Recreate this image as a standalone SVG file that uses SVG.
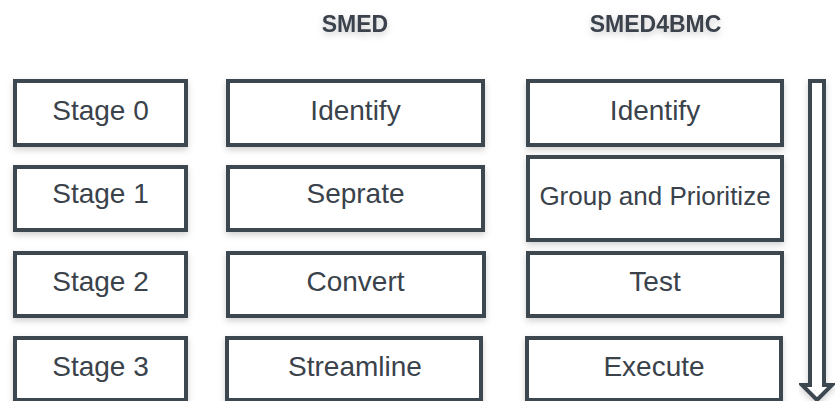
<svg xmlns="http://www.w3.org/2000/svg" width="835" height="401" viewBox="0 0 835 401">
<defs>
<filter id="sh" x="-10%" y="-20%" width="120%" height="150%">
<feDropShadow dx="0" dy="3" stdDeviation="3" flood-color="#000" flood-opacity="0.18"/>
</filter>
<filter id="tsh" x="-20%" y="-50%" width="140%" height="220%">
<feDropShadow dx="0" dy="3" stdDeviation="3" flood-color="#000" flood-opacity="0.2"/>
</filter>
</defs>
<style>
.box{fill:#fff;stroke:#3d4650;stroke-width:4;filter:url(#sh)}
.t{font-family:"Liberation Sans",Arial,sans-serif;font-size:28px;fill:#3a424b;text-anchor:middle}
.h{font-family:"Liberation Sans",Arial,sans-serif;font-size:23px;font-weight:bold;fill:#3a424b;text-anchor:middle;filter:url(#tsh)}
</style>
<rect width="835" height="401" fill="#fff"/>
<g id="title-smed"><text class="h" x="355" y="32">SMED</text></g>
<g id="title-smed4bmc"><text class="h" x="655.5" y="32">SMED4BMC</text></g>

<g id="stage0"><rect class="box" x="15" y="81" width="171" height="64"/><text class="t" x="100.5" y="119.5">Stage 0</text></g>
<g id="stage1"><rect class="box" x="15" y="167" width="171" height="63"/><text class="t" x="100.5" y="203">Stage 1</text></g>
<g id="stage2"><rect class="box" x="15" y="253" width="171" height="63"/><text class="t" x="100.5" y="290.5">Stage 2</text></g>
<g id="stage3"><rect class="box" x="15" y="338" width="171" height="62"/><text class="t" x="100.5" y="375.5">Stage 3</text></g>

<g id="smed-identify"><rect class="box" x="228" y="81" width="255" height="64"/><text class="t" x="355.5" y="119.5">Identify</text></g>
<g id="smed-seprate"><rect class="box" x="228" y="167" width="255" height="63"/><text class="t" x="355.5" y="203">Seprate</text></g>
<g id="smed-convert"><rect class="box" x="228" y="253" width="256" height="63"/><text class="t" x="355.5" y="290.5">Convert</text></g>
<g id="smed-streamline"><rect class="box" x="227" y="338" width="254" height="62"/><text class="t" x="355" y="375.5">Streamline</text></g>

<g id="bmc-identify"><rect class="box" x="528" y="81" width="254" height="64"/><text class="t" x="655" y="119.5">Identify</text></g>
<g id="bmc-group"><rect class="box" x="528" y="157" width="254" height="83"/><text class="t" x="655" y="205" style="font-size:26px">Group and Prioritize</text></g>
<g id="bmc-test"><rect class="box" x="528" y="253" width="254" height="63"/><text class="t" x="655" y="290.5">Test</text></g>
<g id="bmc-execute"><rect class="box" x="527" y="338" width="254" height="62"/><text class="t" x="654" y="375.5">Execute</text></g>

<g id="connectors">
<polygon points="810,81 824,81 824,385 832,385 817,400 802,385 810,385" fill="#fff" stroke="#3d4650" stroke-width="4" stroke-linejoin="miter" filter="url(#sh)"/>
</g>
</svg>
